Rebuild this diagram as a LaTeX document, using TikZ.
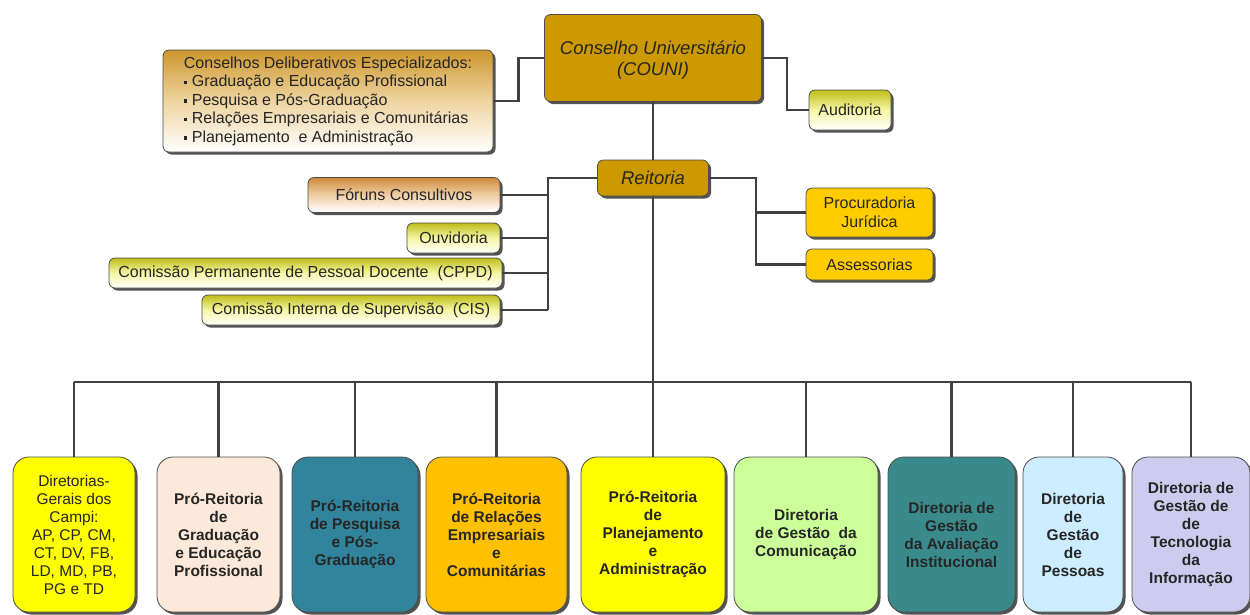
\documentclass[tikz,border=0pt]{standalone}
\usepackage{fontspec}
\setmainfont{Liberation Sans}
\usetikzlibrary{shadows}

\definecolor{couni}{RGB}{204,153,0}
\definecolor{juridica}{RGB}{255,204,0}
\definecolor{goldtop}{RGB}{206,150,45}
\definecolor{goldmid}{RGB}{238,212,160}
\definecolor{orangetop}{RGB}{206,140,60}
\definecolor{orangemid}{RGB}{240,206,165}
\definecolor{olivetop}{RGB}{190,190,25}
\definecolor{olivemid}{RGB}{246,246,165}
\definecolor{campi}{RGB}{255,255,0}
\definecolor{prograd}{RGB}{253,233,217}
\definecolor{propesp}{RGB}{49,132,155}
\definecolor{prorec}{RGB}{255,192,0}
\definecolor{proplan}{RGB}{255,255,0}
\definecolor{dgc}{RGB}{204,255,153}
\definecolor{dgai}{RGB}{58,138,140}
\definecolor{dgp}{RGB}{204,236,255}
\definecolor{dgti}{RGB}{206,204,238}

\newcommand{\sqb}{\rule[2.5pt]{3.5pt}{3.5pt}\ }

\begin{document}
\begin{tikzpicture}[x=1pt, y=-1pt,
  box/.style={draw=black!70, line width=0.8pt, rounded corners=6pt, align=center, inner sep=2pt,
    text=black!85, font={\fontsize{16}{18.5}\selectfont},
    drop shadow={shadow xshift=2.5pt, shadow yshift=-2.5pt, fill=black!75, opacity=0.9}},
  unit/.style={box, rounded corners=16pt, minimum height=155pt, font={\fontsize{15.5}{18}\selectfont\bfseries}},
  head/.style={box, fill=couni, font={\fontsize{18.5}{21.5}\selectfont\itshape}},
  goldfade/.style={top color=goldtop, bottom color=white, middle color=goldmid},
  orangefade/.style={top color=orangetop, bottom color=white, middle color=orangemid},
  olivefade/.style={top color=olivetop, bottom color=white, middle color=olivemid},
  link/.style={draw=black!75, line width=2.6pt}]
  \useasboundingbox (0,0) rectangle (1250,614);

  \node[head, minimum width=217pt, minimum height=87pt, text depth=-6pt] (couni) at (653,58) {Conselho Universitário\\(COUNI)};
  \node[box, goldfade, minimum width=330pt, minimum height=102pt, align=left] (conselhos) at (328,101)
    {Conselhos Deliberativos Especializados:\\ \sqb Graduação e Educação Profissional\\ \sqb Pesquisa e Pós-Graduação\\
     \sqb Relações Empresariais e Comunitárias\\ \sqb Planejamento~ e Administração};
  \node[box, olivefade, minimum width=82pt, minimum height=40pt] (auditoria) at (850,110) {Auditoria};

  \node[head, minimum width=111pt, minimum height=36pt] (reitoria) at (653,178) {Reitoria};
  \node[box, orangefade, minimum width=192pt, minimum height=35pt] (foruns) at (404,195) {Fóruns Consultivos};
  \node[box, olivefade, minimum width=93pt, minimum height=30pt] (ouvidoria) at (453.5,238) {Ouvidoria};
  \node[box, olivefade, minimum width=393pt, minimum height=30pt] (cppd) at (305.5,273) {Comissão Permanente de Pessoal Docente~~(CPPD)};
  \node[box, olivefade, minimum width=298pt, minimum height=30pt] (cis) at (351,310) {Comissão Interna de Supervisão~~(CIS)};
  \node[box, fill=juridica, minimum width=127pt, minimum height=49pt] (procuradoria) at (869.5,212.5) {Procuradoria\\Jurídica};
  \node[box, fill=juridica, minimum width=127pt, minimum height=31pt] (assessorias) at (869.5,264.5) {Assessorias};

  \node[unit, fill=campi, minimum width=122pt, font={\fontsize{15.5}{18}\selectfont}] (dgcampi) at (74,534.5)
    {Diretorias-\\Gerais dos\\Campi:\\AP, CP, CM,\\CT, DV, FB,\\LD, MD, PB,\\PG e TD};
  \node[unit, fill=prograd, minimum width=123pt] (prograd) at (218.5,534.5) {Pró-Reitoria\\de\\Graduação\\e Educação\\Profissional};
  \node[unit, fill=propesp, minimum width=126pt] (propesp) at (355,534.5) {Pró-Reitoria\\de Pesquisa\\e Pós-\\Graduação};
  \node[unit, fill=prorec, minimum width=141pt] (prorec) at (496.5,534.5) {Pró-Reitoria\\de Relações\\Empresariais\\e\\Comunitárias};
  \node[unit, fill=proplan, minimum width=144pt] (proplan) at (653,534.5) {Pró-Reitoria\\de\\Planejamento\\e\\Administração};
  \node[unit, fill=dgc, minimum width=144pt] (dgc) at (806,534.5) {Diretoria\\de Gestão~ da\\Comunicação};
  \node[unit, fill=dgai, minimum width=127pt] (dgai) at (951.5,534.5) {Diretoria de\\Gestão\\da Avaliação\\Institucional};
  \node[unit, fill=dgp, minimum width=100pt] (dgp) at (1073,534.5) {Diretoria\\de\\Gestão\\de\\Pessoas};
  \node[unit, fill=dgti, minimum width=118pt] (dgti) at (1191,534.5) {Diretoria de\\Gestão de\\de\\Tecnologia\\da\\Informação};

  \coordinate (lbus) at (548,178);
  \coordinate (rbus) at (756,178);
  \coordinate (bbus) at (653,382);

  \draw[link] (conselhos.east) -- ++(25,0) |- (couni.west);
  \draw[link] (couni.east) -- ++(25,0) |- (auditoria.west);
  \draw[link] (couni.south) -- (reitoria.north);
  \draw[link] (reitoria.west) -- (lbus) -- (lbus |- cis.east);
  \foreach \n in {foruns,ouvidoria,cppd,cis}
    \draw[link] (\n.east) -- (\n.east -| lbus);
  \draw[link] (reitoria.east) -- (rbus) |- (assessorias.west);
  \draw[link] (procuradoria.west) -- (procuradoria.west -| rbus);
  \draw[link] (reitoria.south) -- (bbus);
  \draw[link] (bbus -| dgcampi.north) -- (bbus -| dgti.north);
  \foreach \n in {dgcampi,prograd,propesp,prorec,proplan,dgc,dgai,dgp,dgti}
    \draw[link] (\n.north) -- (\n.north |- bbus);
\end{tikzpicture}
\end{document}
